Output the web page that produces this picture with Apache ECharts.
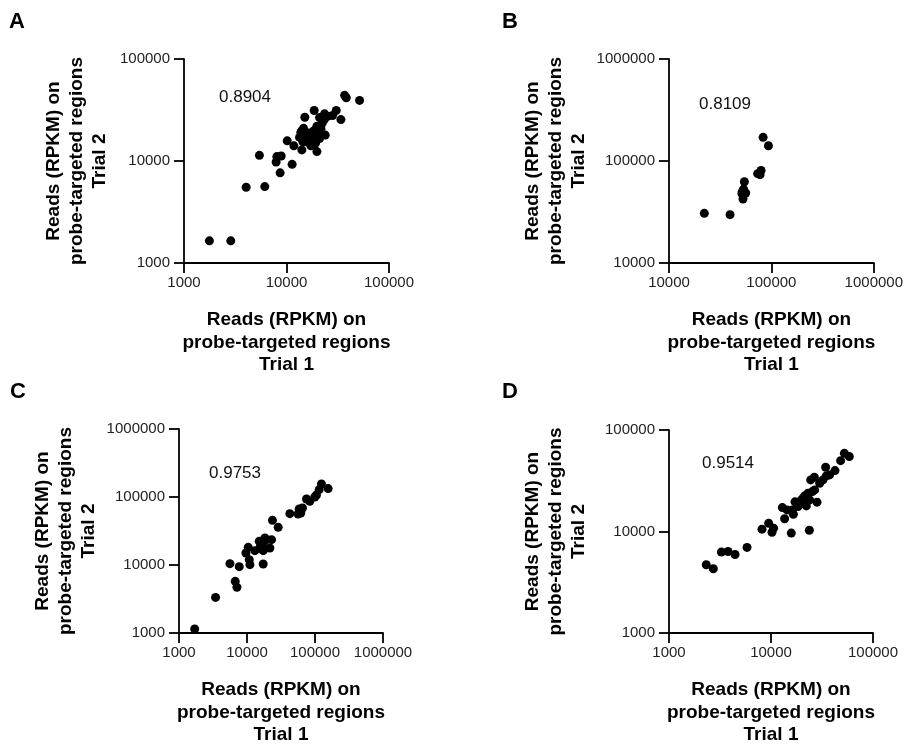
<!DOCTYPE html>
<html>
<head>
<meta charset="utf-8">
<script src="https://cdn.jsdelivr.net/npm/echarts@6/dist/echarts.min.js"></script>
<style>
html,body{margin:0;padding:0;background:#fff;}
#chart{width:906px;height:751px;}
</style>
</head>
<body>
<div id="chart"></div>
<script>
// Panel A
var panelA_x = [1770,2860,4040,6140,5440,7920,8050,8880,8670,11350,10160,11800,14130,19800,15100,18620,23500,30550,28150,33960,36880,38300,51640,23890,
  14130,14660,15800,17030,15200,16400,18070,18620,20090,21000,19190,17300,14450,13400,13800,21700,19770,22330,23350,21000,25180,20700,18370,16520,14660];
var panelA_y = [1650,1650,5530,5610,11370,9770,11040,11200,7660,9270,15770,14090,12850,12370,26850,31290,28980,31290,27900,25470,44040,41690,39260,17950,
  19800,17950,17400,16630,16150,15200,15770,17400,18370,16630,14970,14090,15420,17030,19100,20600,21880,23600,25470,26660,27480,19680,19680,18790,20890];
// Panel B
var panelB_x = [22130,39450,52800,54450,52100,56100,53500,51500,73400,79200,77500,82990,93500];
var panelB_y = [30700,29800,42400,62650,50450,48560,53000,48000,75200,80900,73500,170700,141200];
// Panel C
var panelC_x = [1700,3450,6710,7110,5610,7690,9640,10430,11040,17300,13060,15460,17300,15800,18320,19370,21680,22950,16950,15140,23700,28760,42700,
  58460,61850,56500,65450,74960,83900,99400,105100,115100,124400,156000,10790];
var panelC_y = [1145,3340,5750,4700,10470,9450,15000,18200,10110,10350,16250,17780,16250,21080,24960,23600,17780,23600,19900,22280,45400,35800,56900,
  66700,58200,56250,68870,93540,86370,100000,107000,128200,155300,132800,11970];
// Panel D
var panelD_x = [2320,2720,3260,3790,4440,5820,8160,9490,10230,10610,15810,23770,13600,12920,
  14360,16560,17180,19090,20590,22200,23930,25420,23050,28250,26800,24500,26600,30000,32340,34850,37550,34330,42400,48150,52400,58600,21380,19830,18410,16180];
var panelD_y = [4700,4300,6270,6350,5940,6970,10540,12070,9840,10780,9640,10300,13340,17210,
  16330,14790,19590,19010,21300,17880,20470,24720,23820,19450,25700,32210,34200,29850,32210,35300,36100,42940,39840,49890,58900,54700,22440,20470,17620,16330];

var correlations = ['0.8904','0.8109','0.9753','0.9514'];
var panelLetters = ['A','B','C','D'];
var xRanges = [[1000,100000],[10000,1000000],[1000,1000000],[1000,100000]];
var yRanges = [[1000,100000],[10000,1000000],[1000,1000000],[1000,100000]];
var xName = 'Reads (RPKM) on\nprobe-targeted regions\nTrial 1';
var yName = 'Reads (RPKM) on\nprobe-targeted regions\nTrial 2';

var FONT = 'Liberation Sans, Arial, sans-serif';
var grids = [
  {left:184, top:59, width:205, height:204},
  {left:669, top:59, width:205, height:204},
  {left:179, top:429, width:204, height:204},
  {left:669, top:430, width:204, height:203}
];
var yNameGaps = [73, 79, 79, 79];
function axisCommon(range, gi){
  return {
    type:'log', logBase:10, min:range[0], max:range[1], gridIndex:gi,
    axisLine:{show:true, onZero:false, lineStyle:{color:'#000', width:1.8}},
    axisTick:{show:true, length:10, lineStyle:{color:'#000', width:1.8}},
    minorTick:{show:false},
    splitLine:{show:false},
    nameMoveOverlap:false,
    axisLabel:{fontSize:15, color:'#222', fontFamily:FONT,
      formatter:function(v){return String(Math.round(v));}}
  };
}
var xAxes=[], yAxes=[], series=[];
var xs=[panelA_x,panelB_x,panelC_x,panelD_x];
var ys=[panelA_y,panelB_y,panelC_y,panelD_y];
for (var i=0;i<4;i++){
  var xa = axisCommon(xRanges[i], i);
  xa.axisLabel.margin = 12;
  xa.name = xName; xa.nameLocation='middle'; xa.nameGap=46;
  xa.nameTextStyle = {fontSize:19, fontWeight:'bold', color:'#000', lineHeight:22.5, fontFamily:FONT};
  xAxes.push(xa);
  var ya = axisCommon(yRanges[i], i);
  ya.axisLabel.margin = 14;
  ya.name = yName; ya.nameLocation='middle'; ya.nameGap=yNameGaps[i];
  ya.nameTextStyle = {fontSize:19, fontWeight:'bold', color:'#000', lineHeight:23, fontFamily:FONT};
  yAxes.push(ya);
  var d=[];
  for (var k=0;k<xs[i].length;k++) d.push([xs[i][k], ys[i][k]]);
  series.push({type:'scatter', xAxisIndex:i, yAxisIndex:i, data:d, symbolSize:9,
    itemStyle:{color:'#000', opacity:1}, silent:true});
}
var annPos = [[219,89],[699,96],[209,465],[702,455]];
var letterPos = [[9,11],[502,11],[10,381],[502,381]];
var graphic=[];
for (var j=0;j<4;j++){
  graphic.push({type:'text', left:annPos[j][0], top:annPos[j][1],
    style:{text:correlations[j], font:'17px '+FONT, fill:'#111'}});
  graphic.push({type:'text', left:letterPos[j][0], top:letterPos[j][1],
    style:{text:panelLetters[j], font:'bold 22px '+FONT, fill:'#000'}});
}
var chart = echarts.init(document.getElementById('chart'), null, {renderer:'canvas'});
chart.setOption({
  animation:false,
  backgroundColor:'#fff',
  grid:grids, xAxis:xAxes, yAxis:yAxes, series:series, graphic:graphic
});
</script>
</body>
</html>
